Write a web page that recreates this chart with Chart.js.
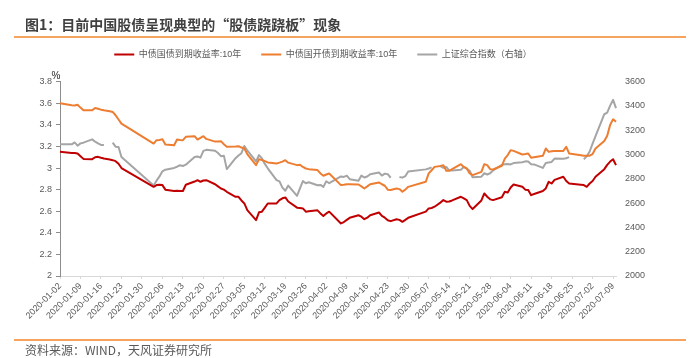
<!DOCTYPE html>
<html>
<head>
<meta charset="utf-8">
<script src="https://cdn.jsdelivr.net/npm/chart.js@4"></script>
<style>
  body { margin: 0; background: #fff; }
  #wrap { position: relative; width: 700px; height: 358px; overflow: hidden; font-family: 'Noto Sans CJK SC', sans-serif; }
  #title { position: absolute; left: 25px; top: 14px; font-size: 14px; font-weight: bold; color: #404040; line-height: 20px; white-space: nowrap; }
  .rule { position: absolute; left: 14px; width: 672px; height: 2px; background: #f5a35e; }
  #source { position: absolute; left: 25px; top: 342px; font-size: 12px; color: #595959; line-height: 16px; white-space: nowrap; }
  canvas { position: absolute; left: 0; top: 0; }
</style>
</head>
<body>
<div id="wrap">
  <canvas id="chart" width="700" height="358"></canvas>
  <div id="title">图1：目前中国股债呈现典型的“股债跷跷板”现象</div>
  <div class="rule" style="top:36px"></div>
  <div class="rule" style="top:339px"></div>
  <div id="source">资料来源：WIND，天风证券研究所</div>
</div>
<script>
// 采样日期（交易日，含调休日）
const dates = [
  '2020-01-02','2020-01-06','2020-01-07','2020-01-08','2020-01-09','2020-01-10','2020-01-13','2020-01-14',
  '2020-01-15','2020-01-16','2020-01-17','2020-01-19','2020-01-20','2020-01-21','2020-01-22','2020-01-23',
  '2020-02-03','2020-02-04','2020-02-05','2020-02-06','2020-02-07','2020-02-10','2020-02-11','2020-02-12',
  '2020-02-13','2020-02-14','2020-02-17','2020-02-18','2020-02-19','2020-02-20','2020-02-21','2020-02-24',
  '2020-02-25','2020-02-26','2020-02-27','2020-02-28',
  '2020-03-02','2020-03-03','2020-03-04','2020-03-05','2020-03-06','2020-03-09','2020-03-10','2020-03-11',
  '2020-03-12','2020-03-13','2020-03-16','2020-03-17','2020-03-18','2020-03-19','2020-03-20','2020-03-23',
  '2020-03-24','2020-03-25','2020-03-26','2020-03-27','2020-03-30','2020-03-31',
  '2020-04-01','2020-04-02','2020-04-03','2020-04-07','2020-04-08','2020-04-09','2020-04-10','2020-04-13',
  '2020-04-14','2020-04-15','2020-04-16','2020-04-17','2020-04-20','2020-04-21','2020-04-22','2020-04-23',
  '2020-04-24','2020-04-26','2020-04-27','2020-04-28','2020-04-29','2020-04-30',
  '2020-05-06','2020-05-07','2020-05-08','2020-05-09','2020-05-11','2020-05-12','2020-05-13','2020-05-14',
  '2020-05-15','2020-05-18','2020-05-19','2020-05-20','2020-05-21','2020-05-22','2020-05-25','2020-05-26',
  '2020-05-27','2020-05-28','2020-05-29',
  '2020-06-01','2020-06-02','2020-06-03','2020-06-04','2020-06-05','2020-06-08','2020-06-09','2020-06-10',
  '2020-06-11','2020-06-12','2020-06-15','2020-06-16','2020-06-17','2020-06-18','2020-06-19','2020-06-22',
  '2020-06-23','2020-06-24','2020-06-28','2020-06-29','2020-06-30',
  '2020-07-01','2020-07-02','2020-07-03','2020-07-06','2020-07-07','2020-07-08','2020-07-09','2020-07-10'
];

// 中债国债到期收益率:10年 (%)
const cgb10 = [
  3.150, 3.140, 3.140, 3.135, 3.110, 3.085, 3.082, 3.100, 3.104, 3.095, 3.088, 3.080, 3.073, 3.064, 3.040, 3.000,
  2.826, 2.842, 2.845, 2.842, 2.800, 2.787, 2.790, 2.787, 2.787, 2.845, 2.875, 2.888, 2.873, 2.885, 2.888, 2.850,
  2.830, 2.811, 2.800, 2.780,
  2.734, 2.734, 2.700, 2.672, 2.611, 2.518, 2.590, 2.596, 2.633, 2.672, 2.672, 2.703, 2.720, 2.728, 2.690, 2.633,
  2.630, 2.626, 2.596, 2.600, 2.608, 2.580,
  2.556, 2.580, 2.596, 2.487, 2.500, 2.520, 2.539, 2.563, 2.550, 2.526, 2.540, 2.563, 2.588, 2.557, 2.540, 2.517,
  2.508, 2.526, 2.520, 2.502, 2.520, 2.539,
  2.596, 2.626, 2.630, 2.642, 2.680, 2.703, 2.688, 2.690, 2.700, 2.734, 2.720, 2.703, 2.650, 2.620, 2.700, 2.765,
  2.734, 2.710, 2.703,
  2.730, 2.780, 2.774, 2.820, 2.848, 2.826, 2.800, 2.796, 2.749, 2.760, 2.787, 2.811, 2.873, 2.857, 2.890, 2.919,
  2.880, 2.857, 2.845, 2.842, 2.826,
  2.857, 2.880, 2.919, 2.990, 3.030, 3.060, 3.082, 3.027
];

// 中债国开债到期收益率:10年 (%)
const cdb10 = [
  3.600, 3.581, 3.580, 3.587, 3.560, 3.535, 3.535, 3.557, 3.550, 3.541, 3.535, 3.526, 3.520, 3.489, 3.450, 3.412,
  3.227, 3.258, 3.260, 3.267, 3.218, 3.212, 3.265, 3.260, 3.258, 3.289, 3.295, 3.264, 3.280, 3.295, 3.270, 3.245,
  3.245, 3.249, 3.220, 3.197,
  3.200, 3.203, 3.190, 3.181, 3.130, 3.027, 3.082, 3.075, 3.064, 3.052, 3.042, 3.050, 3.060, 3.073, 3.050, 3.027,
  3.030, 3.010, 2.996, 2.990, 2.981, 2.950,
  2.929, 2.940, 2.950, 2.842, 2.845, 2.850, 2.851, 2.848, 2.830, 2.811, 2.830, 2.850, 2.867, 2.850, 2.836, 2.800,
  2.796, 2.811, 2.805, 2.780, 2.800, 2.826,
  2.873, 2.950, 2.980, 3.011, 3.020, 3.027, 2.975, 2.975, 2.990, 3.036, 3.010, 2.996, 2.950, 2.935, 2.965, 3.036,
  3.027, 2.990, 2.987,
  3.021, 3.088, 3.120, 3.166, 3.159, 3.126, 3.130, 3.135, 3.095, 3.100, 3.113, 3.181, 3.150, 3.155, 3.159, 3.159,
  3.197, 3.135, 3.119, 3.115, 3.113,
  3.115, 3.130, 3.181, 3.250, 3.300, 3.400, 3.452, 3.428
];

// 上证综合指数（右轴），调休日无数据
const shComp = [
  3085, 3084, 3100, 3073, 3092, 3098, 3125, 3106, 3092, 3079, 3079, null, 3098, 3065, 3062, 2980,
  2746, 2785, 2820, 2862, 2875, 2890, 2900, 2912, 2906, 2917, 2980, 2984, 2975, 3030, 3039, 3031,
  3013, 2987, 2991, 2880,
  2970, 2992, 3011, 3071, 3034, 2943, 2996, 2968, 2923, 2887, 2789, 2779, 2728, 2702, 2745, 2660,
  2722, 2781, 2764, 2772, 2747, 2750,
  2734, 2780, 2764, 2820, 2816, 2826, 2797, 2784, 2827, 2811, 2819, 2838, 2852, 2827, 2843, 2838,
  2809, null, 2815, 2810, 2822, 2860,
  2878, 2885, 2895, null, 2905, 2891, 2898, 2870, 2868, 2875, 2898, 2884, 2867, 2813, 2818, 2846,
  2836, 2846, 2870,
  2915, 2921, 2923, 2919, 2930, 2937, 2944, 2943, 2920, 2919, 2890, 2931, 2935, 2939, 2967, 2965,
  2970, 2979, null, 2962, 2985,
  3025, 3090, 3152, 3332, 3345, 3403, 3450, 3383
];

const seriesNames = ['中债国债到期收益率:10年', '中债国开债到期收益率:10年', '上证综合指数（右轴）'];
const seriesColors = ['#c00000', '#ed7d31', '#a5a5a5'];

// 横轴：逐日日期
const days = [];
for (let t = Date.UTC(2020, 0, 2); t <= Date.UTC(2020, 6, 10); t += 864e5) {
  days.push(new Date(t).toISOString().slice(0, 10));
}

const toPoints = vals => dates.map((d, i) => ({ x: d, y: vals[i] }));

Chart.defaults.font.family = "'Liberation Sans', 'Noto Sans CJK SC', sans-serif";
Chart.defaults.color = '#595959';

// 图例下方留白
const legendGap = {
  id: 'legendGap',
  afterInit(chart) {
    const fit = chart.legend.fit;
    chart.legend.fit = function () { fit.call(this); this.height += 12.7; };
  }
};

// 左轴单位
const unitLabel = {
  id: 'unitLabel',
  afterDraw(chart) {
    const { ctx, chartArea } = chart;
    ctx.save();
    ctx.font = "10px 'Liberation Sans'";
    ctx.fillStyle = '#262626';
    ctx.textAlign = 'center';
    ctx.textBaseline = 'middle';
    ctx.fillText('%', chartArea.left - 4, chartArea.top - 5);
    ctx.restore();
  }
};

new Chart(document.getElementById('chart'), {
  type: 'line',
  data: {
    labels: days,
    datasets: [
      { label: seriesNames[0], data: toPoints(cgb10), borderColor: seriesColors[0], backgroundColor: seriesColors[0], yAxisID: 'y' },
      { label: seriesNames[1], data: toPoints(cdb10), borderColor: seriesColors[1], backgroundColor: seriesColors[1], yAxisID: 'y' },
      { label: seriesNames[2], data: toPoints(shComp), borderColor: seriesColors[2], backgroundColor: seriesColors[2], yAxisID: 'y1' }
    ]
  },
  options: {
    responsive: false,
    animation: false,
    elements: {
      point: { radius: 0 },
      line: { borderWidth: 2, tension: 0, borderJoinStyle: 'round' }
    },
    layout: { padding: { top: 30, right: 54, left: 0, bottom: 0 } },
    plugins: {
      tooltip: { enabled: false },
      legend: {
        position: 'top',
        labels: {
          boxWidth: 20,
          boxHeight: 2,
          padding: 20,
          color: '#595959',
          font: { size: 9 },
          generateLabels: chart => Chart.defaults.plugins.legend.labels.generateLabels(chart)
            .map(l => Object.assign(l, { lineWidth: 0 }))
        }
      }
    },
    scales: {
      x: {
        type: 'category',
        border: { color: '#d9d9d9' },
        grid: { drawOnChartArea: false, drawTicks: true, tickLength: 3, color: '#d9d9d9' },
        ticks: { autoSkip: false, minRotation: 45, maxRotation: 45, padding: 2, font: { size: 9 } },
        afterBuildTicks: s => { s.ticks = s.ticks.filter(t => t.value % 7 === 0); },
        afterFit: s => { s.height = 82; }
      },
      y: {
        position: 'left',
        min: 2,
        max: 3.8,
        border: { display: true, color: '#8c8c8c' },
        grid: { drawOnChartArea: false, drawTicks: true, tickLength: 4, color: '#8c8c8c' },
        ticks: { stepSize: 0.2, padding: 4, font: { size: 9 }, callback: v => String(+v.toFixed(1)) },
        afterFit: s => { s.width = 60; }
      },
      y1: {
        position: 'right',
        min: 2000,
        max: 3600,
        border: { display: false },
        grid: { drawOnChartArea: false, drawTicks: false },
        ticks: { stepSize: 200, padding: 9, font: { size: 9 }, callback: v => String(v) },
        afterFit: s => { s.width = 30; }
      }
    }
  },
  plugins: [legendGap, unitLabel]
});
</script>
</body>
</html>
